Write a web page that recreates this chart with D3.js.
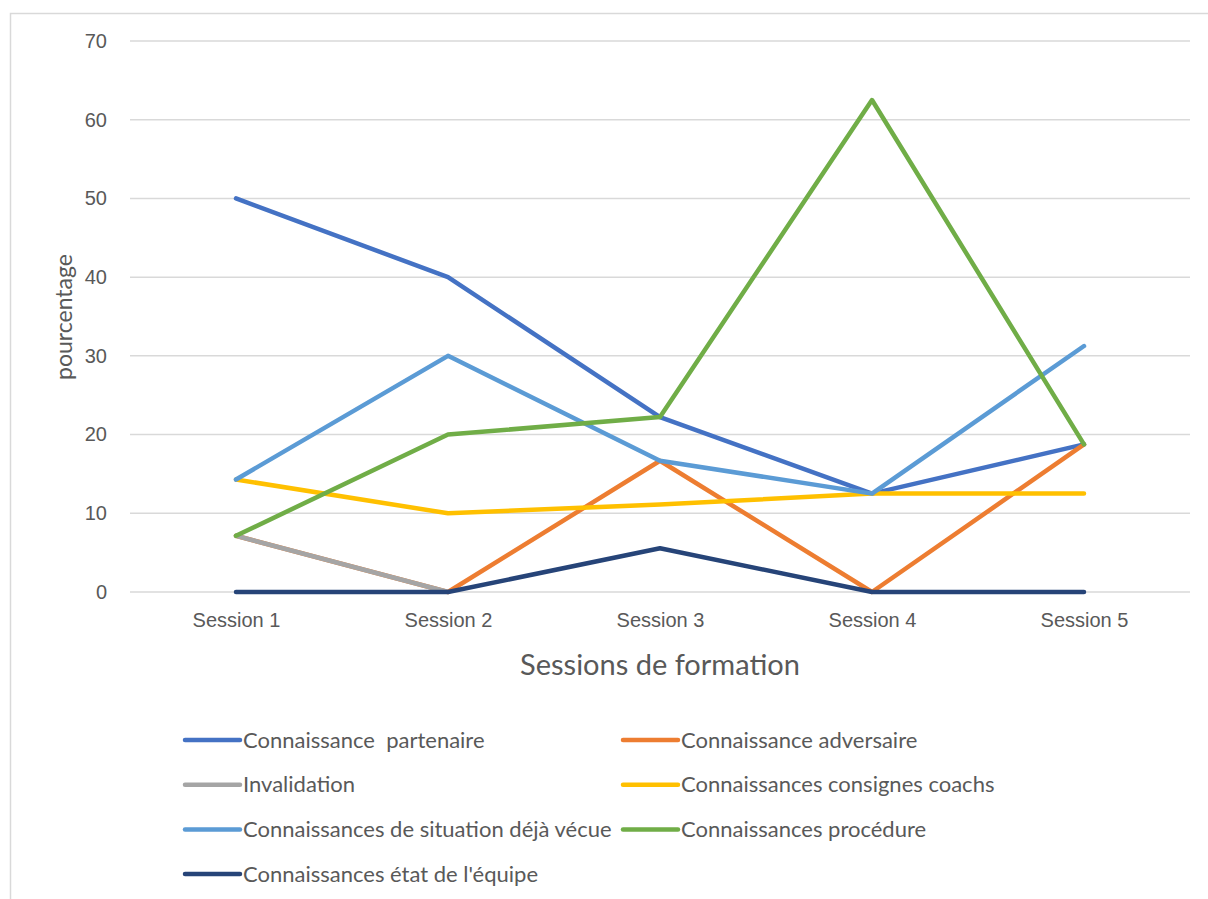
<!DOCTYPE html>
<html><head><meta charset="utf-8">
<script src="https://cdn.jsdelivr.net/npm/d3@7/dist/d3.min.js"></script>
<style>body{margin:0;background:#fff;} svg{display:block;font-family:Lato, "Open Sans", sans-serif;}</style>
</head><body><svg id="c" width="1208" height="899"></svg>
<script>
const sessions = ["Session 1","Session 2","Session 3","Session 4","Session 5"];
const seriesNames = ["Connaissance  partenaire","Connaissance adversaire","Invalidation","Connaissances consignes coachs","Connaissances de situation déjà vécue","Connaissances procédure","Connaissances état de l'équipe"];
const seriesColors = ["#4472C4","#ED7D31","#A5A5A5","#FFC000","#5B9BD5","#70AD47","#264478"];
const partenaire = [50, 40, 22.22, 12.5, 18.75];
const adversaire = [7.14, 0, 16.67, 0, 18.75];
const invalidation = [7.14, 0, null, null, null];
const consignes = [14.29, 10, 11.11, 12.5, 12.5];
const situation = [14.29, 30, 16.67, 12.5, 31.25];
const procedure = [7.14, 20, 22.22, 62.5, 18.75];
const etatEquipe = [0, 0, 5.56, 0, 0];
const yTicks = [0,10,20,30,40,50,60,70];

const allValues = [partenaire, adversaire, invalidation, consignes, situation, procedure, etatEquipe];
const svg = d3.select("#c");
const textColor = "#595959";

// chart border
svg.append("path").attr("d","M10.5,899 V13.5 H1208").attr("fill","none").attr("stroke","#d9d9d9").attr("stroke-width",1.5);

const pLeft = 130, pRight = 1190, pTop = 41, pBottom = 592;
const x = d3.scalePoint().domain(sessions).range([pLeft, pRight]).padding(0.5);
const y = d3.scaleLinear().domain([0,70]).range([pBottom, pTop]);

// gridlines
svg.append("g").selectAll("line").data(yTicks).join("line")
  .attr("x1", pLeft).attr("x2", pRight)
  .attr("y1", d=>y(d)).attr("y2", d=>y(d))
  .attr("stroke","#d9d9d9").attr("stroke-width",1.5);

// y axis
const yAxis = svg.append("g").attr("transform",`translate(${pLeft},0)`)
  .call(d3.axisLeft(y).tickValues(yTicks).tickSize(0).tickPadding(23));
yAxis.select(".domain").remove();
yAxis.selectAll("text").attr("fill",textColor).attr("font-size",20).attr("font-family","inherit");

// x axis
const xAxis = svg.append("g").attr("transform",`translate(0,${pBottom})`)
  .call(d3.axisBottom(x).tickSize(0).tickPadding(21));
xAxis.select(".domain").remove();
xAxis.selectAll("text").attr("fill",textColor).attr("font-size",20).attr("font-family","inherit");

// axis titles
svg.append("text").attr("x",660).attr("y",675).attr("text-anchor","middle")
  .attr("fill",textColor).attr("font-size",29).text("Sessions de formation");
svg.append("text").attr("transform","translate(72,317) rotate(-90)").attr("text-anchor","middle")
  .attr("fill",textColor).attr("font-size",23).text("pourcentage");

// lines
const line = d3.line().defined(d=>d!==null).x((d,i)=>x(sessions[i])).y(d=>y(d));
svg.append("g").selectAll("path").data(allValues).join("path")
  .attr("d", d=>line(d)).attr("fill","none")
  .attr("stroke",(d,i)=>seriesColors[i]).attr("stroke-width",4.5)
  .attr("stroke-linecap","round").attr("stroke-linejoin","round");

// legend
const legX = [185, 623], legY0 = 740, legDy = 44.7;
const leg = svg.append("g").selectAll("g").data(seriesNames).join("g")
  .attr("transform",(d,i)=>`translate(${legX[i%2]},${legY0 + Math.floor(i/2)*legDy})`);
leg.append("line").attr("x1",0).attr("x2",55).attr("y1",0).attr("y2",0)
  .attr("stroke",(d,i)=>seriesColors[i]).attr("stroke-width",4.5).attr("stroke-linecap","round");
leg.append("text").attr("x",58).attr("y",0).attr("dy","0.35em")
  .attr("fill",textColor).attr("font-size",22)
  .style("white-space","pre").text(d=>d);
</script></body></html>
